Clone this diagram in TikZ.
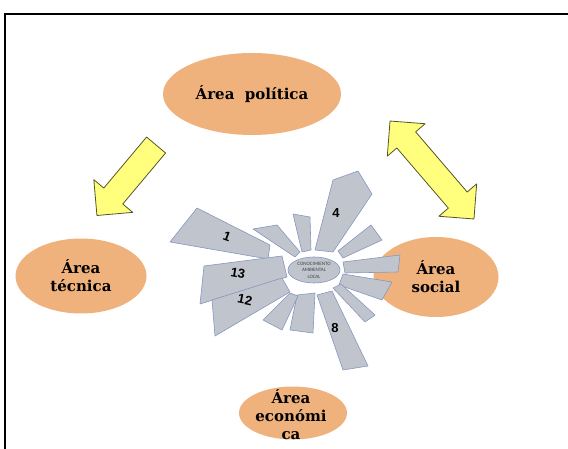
\documentclass[tikz,border=0pt]{standalone}
\usepackage{fontspec}
\setmainfont{DejaVu Serif}
\newfontfamily\cifra{Carlito}
\newfontfamily\digito{Liberation Sans}
\usetikzlibrary{shapes.geometric,shapes.arrows}

\definecolor{naranja}{RGB}{240,178,125}
\definecolor{gris}{RGB}{192,196,205}
\definecolor{borde}{RGB}{135,150,190}
\definecolor{amarillo}{RGB}{255,255,125}
\definecolor{oliva}{RGB}{85,85,40}

\tikzset{
  zona/.style={ellipse, fill=naranja, inner sep=0pt},
  zonatexto/.style={align=center, font=\fontsize{15}{18}\selectfont\bfseries},
  petalo/.style={fill=gris, draw=borde, line width=0.6pt, line join=round},
  flecha/.style={fill=amarillo, draw=oliva, line width=0.8pt, inner xsep=0pt, line join=round},
  numero/.style={font=\digito\bfseries\fontsize{13}{13}\selectfont},
}

\begin{document}
\begin{tikzpicture}[x=1pt,y=-1pt]
\useasboundingbox (0,0) rectangle (568,449);
\draw[line width=2.5pt] (568,14) -- (5,14) -- (5,449);

\node[zona, minimum width=178pt, minimum height=82pt] (politica) at (252,94) {};
\node[zona, minimum width=131pt, minimum height=75pt] (tecnica) at (81,276) {};
\node[zona, minimum width=125pt, minimum height=80pt] (social) at (436,277) {};
\node[zona, minimum width=108pt, minimum height=53pt] (economica) at (293,413) {};
\node[zonatexto] (tpolitica) at (politica) {Área\ \ política};
\node[zonatexto] (ttecnica) at (tecnica) {Área\\técnica};
\node[zonatexto] (tsocial) at (social) {Área\\social};
\node[zonatexto] (teconomica) at (291,415) {Área\\económi\\ca};

\node[flecha, single arrow, minimum height=92pt, inner ysep=12pt,
  single arrow head extend=13pt, rotate=230] (flechaA) at (130.5,175.5) {};
\node[flecha, double arrow, minimum height=129pt, inner ysep=12pt,
  double arrow head extend=12.5pt, rotate=-49.4] (flechaB) at (432,170) {};

\draw[petalo] (197,208) -- (270,245) -- (268,259) -- (170,242) -- cycle;
\draw[petalo] (253,229) -- (277,225) -- (300,252) -- (295,257) -- cycle;
\draw[petalo] (293,214) -- (310,217) -- (311,250) -- (302,252) -- cycle;
\draw[petalo] (333,180) -- (358,171) -- (372,194) -- (333,252) -- (315,250) -- cycle;
\draw[petalo] (371,225) -- (382,240) -- (343,258) -- (338,251) -- cycle;
\draw[petalo] (343,262) -- (400,255) -- (398,272) -- (345,273) -- cycle;
\draw[petalo] (343,274) -- (392,282) -- (382,300) -- (339,285) -- cycle;
\draw[petalo] (333,288) -- (341,284) -- (375,315) -- (365,322) -- cycle;
\draw[petalo] (317,295) -- (332,291) -- (368,366) -- (343,370) -- cycle;
\draw[petalo] (297,295) -- (315,293) -- (313,333) -- (290,330) -- cycle;
\draw[petalo] (290,293) -- (298,296) -- (282,330) -- (263,320) -- cycle;
\draw[petalo] (204,266) -- (282,256) -- (287,277) -- (200,304) -- cycle;
\draw[petalo] (212,300) -- (282,278) -- (290,292) -- (215,336) -- cycle;

\node[ellipse, petalo, minimum width=52pt, minimum height=26pt, inner sep=0pt] (nucleo) at (314,270) {};
\node[align=center, text=black!75, font=\cifra\fontsize{5}{6.5}\selectfont] (tnucleo) at (nucleo) {CONOCIMIENTO\\AMBIENTAL\\LOCAL};

\node[numero, rotate=-20] (n1) at (227,237) {1};
\node[numero] (n4) at (336,213) {4};
\node[numero, rotate=-10] (n13) at (238,273) {13};
\node[numero, rotate=-12] (n12) at (245,300) {12};
\node[numero] (n8) at (335,328) {8};
\end{tikzpicture}
\end{document}
